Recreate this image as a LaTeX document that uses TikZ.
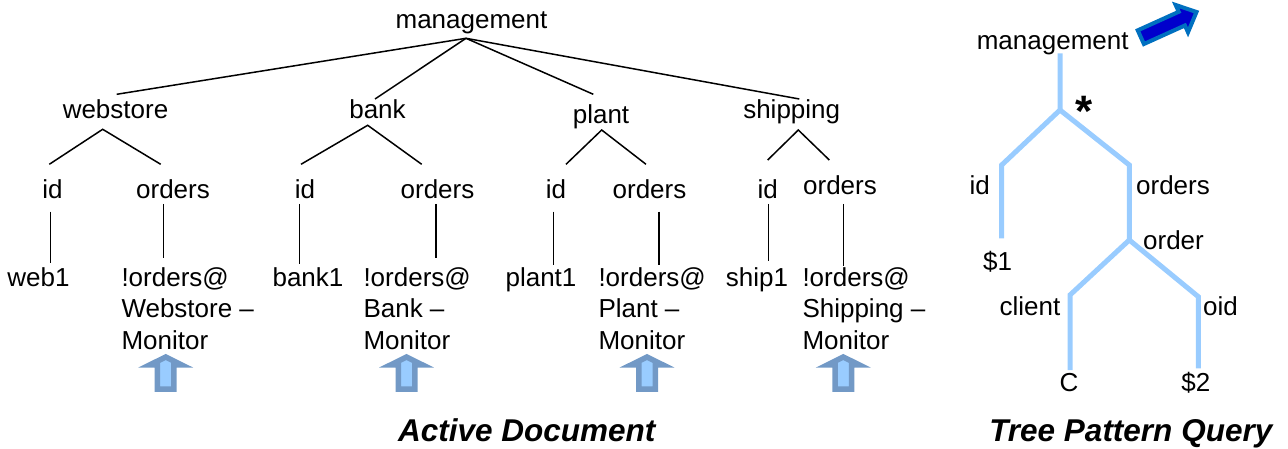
\documentclass[tikz,border=0pt]{standalone}
\usepackage{fontspec}
\setmainfont{Liberation Sans}
\usetikzlibrary{calc}
\definecolor{qblue}{RGB}{153,204,255}
\definecolor{arrline}{RGB}{114,153,198}
\definecolor{arrfill}{RGB}{153,204,255}
\definecolor{bigline}{RGB}{0,112,192}
\definecolor{bigfill}{RGB}{0,0,204}
\begin{document}
\begin{tikzpicture}[x=1pt,y=-1pt,
  lbl/.style={inner sep=0pt, outer sep=0pt, anchor=base, font=\fontsize{26}{31.5}\selectfont},
  mon/.style={lbl, anchor=base west},
  edge/.style={line width=1.5pt, black},
  qline/.style={line width=5pt, qblue, line join=miter},
  title/.style={inner sep=0pt, outer sep=0pt, anchor=base, font=\fontsize{31.5}{36}\selectfont\bfseries\itshape},
  uparr/.pic={\draw[line width=5.5pt, draw=arrline, fill=arrfill, line join=miter]
     (0,0) -- (15.6,7.75) -- (8.25,7.75) -- (8.25,32) -- (-8.25,32) -- (-8.25,7.75) -- (-15.6,7.75) -- cycle;}
]
\useasboundingbox (0,0) rectangle (1288,449);

% ---------- Active document ----------
\node[lbl] (m) at (471.5,28.3) {management};
\node[lbl] (ws) at (115.5,119) {webstore};
\node[lbl] (bk) at (377.5,119) {bank};
\node[lbl] (pl) at (601,124) {plant};
\node[lbl] (sh) at (791.7,119) {shipping};
\node[lbl] (id1) at (52.5,199) {id};
\node[lbl] (or1) at (173,199) {orders};
\node[lbl] (id2) at (305,199) {id};
\node[lbl] (or2) at (437.5,199) {orders};
\node[lbl] (id3) at (556,199) {id};
\node[lbl] (or3) at (649.5,199) {orders};
\node[lbl] (id4) at (767.7,199) {id};
\node[lbl] (or4) at (840,194.3) {orders};
\node[lbl] (web1) at (38.5,286) {web1};
\node[lbl] (bank1) at (308,286) {bank1};
\node[lbl] (plant1) at (541,286) {plant1};
\node[lbl] (ship1) at (757,286) {ship1};
\node[mon] (mon1) at (121.5,286) {\vtop{\hbox{!orders@}\hbox{Webstore –}\hbox{Monitor}}};
\node[mon] (mon2) at (363.5,286) {\vtop{\hbox{!orders@}\hbox{Bank –}\hbox{Monitor}}};
\node[mon] (mon3) at (598.5,286) {\vtop{\hbox{!orders@}\hbox{Plant –}\hbox{Monitor}}};
\node[mon] (mon4) at (802.5,286) {\vtop{\hbox{!orders@}\hbox{Shipping –}\hbox{Monitor}}};

\draw[edge] ($(m.base)+(-5.5,10)$) -- ($(ws.base)+(1.2,-24.7)$);
\draw[edge] ($(m.base)+(-5.5,10)$) -- ($(bk.base)+(-2.5,-20)$);
\draw[edge] ($(m.base)+(-5.5,10)$) -- ($(pl.base)+(-7.7,-29.7)$);
\draw[edge] ($(m.base)+(-5.5,10)$) -- ($(sh.base)+(7.6,-20)$);

\draw[edge] ($(id1.base)+(-3.2,-34.7)$) -- ($(ws.base)+(-12.8,10.3)$) -- ($(or1.base)+(-12.3,-34.7)$);
\draw[edge] ($(id2.base)+(-4,-34.7)$) -- ($(bk.base)+(-9.8,6.3)$) -- ($(or2.base)+(-15.8,-34.7)$);
\draw[edge] ($(id3.base)+(10,-34.7)$) -- ($(pl.base)+(0.7,6)$) -- ($(or3.base)+(-3.5,-34.7)$);
\draw[edge] ($(id4.base)+(0,-39)$) -- ($(sh.base)+(6.6,11)$) -- ($(or4.base)+(-10.7,-34.3)$);

\draw[edge] ($(id1.base)+(-1.8,12.7)$) -- ($(web1.base)+(12.2,-22.7)$);
\draw[edge] ($(or1.base)+(-9.3,5)$) -- ($(mon1.base west)+(42.2,-27.7)$);
\draw[edge] ($(id2.base)+(-5.7,5)$) -- ($(bank1.base)+(-8.7,-21.7)$);
\draw[edge] ($(or2.base)+(-1.5,5)$) -- ($(mon2.base west)+(72.5,-27.7)$);
\draw[edge] ($(id3.base)+(-2.7,12.7)$) -- ($(plant1.base)+(12.3,-21)$);
\draw[edge] ($(or3.base)+(9.5,12.7)$) -- ($(mon3.base west)+(60.5,-21)$);
\draw[edge] ($(id4.base)+(1,5)$) -- ($(ship1.base)+(11.7,-25)$);
\draw[edge] ($(or4.base)+(3.7,9.7)$) -- ($(mon4.base west)+(41.2,-20.3)$);

\pic at (165.7,357) {uparr};
\pic at (406.5,357) {uparr};
\pic at (647,357) {uparr};
\pic at (843.3,357) {uparr};

\node[title] (t1) at (526.7,441.7) {Active Document};

% ---------- Tree pattern query ----------
\node[lbl] (rm) at (1052.7,50) {management};
\node[lbl] (rid) at (979.7,194.3) {id};
\node[lbl] (ror) at (1173,194.3) {orders};
\node[lbl] (rord) at (1173.5,250) {order};
\node[lbl] (r1) at (997.5,270.7) {\$1};
\node[lbl] (rcl) at (1030,315) {client};
\node[lbl] (roid) at (1220.4,315) {oid};
\node[lbl] (rC) at (1069,391.7) {C};
\node[lbl] (r2) at (1195.9,391.7) {\$2};
\node[inner sep=0pt, anchor=base, font=\fontsize{44}{44}\selectfont\bfseries] (star) at (1084.5,126.3) {*};

\coordinate (j0) at (1060,110);
\coordinate (j1) at (1001.7,165);
\coordinate (j2) at (1129.3,165);
\coordinate (j3) at (1129.3,240);
\coordinate (j4) at (1070,295);
\coordinate (j5) at (1198.3,296.7);
\draw[qline] ($(rm.base)+(7.3,3.3)$) -- (j0) -- (j1) -- ($(r1.base)+(4.2,-32.4)$);
\draw[qline] (j0) -- (j2) -- (j3) -- (j4) -- ($(rC.base)+(1,-21.7)$);
\draw[qline] (j3) -- (j5) -- ($(r2.base)+(2.4,-23.4)$);

\draw[line width=4pt, draw=bigline, fill=bigfill, line join=miter]
  (1137.73,30.34) -- (1178.73,11.81) -- (1175.64,4.97) -- (1196.48,12.0)
  -- (1188.0,32.31) -- (1184.91,25.47) -- (1143.91,44.01) -- cycle;

\node[title] (t2) at (1130.8,441.7) {Tree Pattern Query};
\end{tikzpicture}
\end{document}
